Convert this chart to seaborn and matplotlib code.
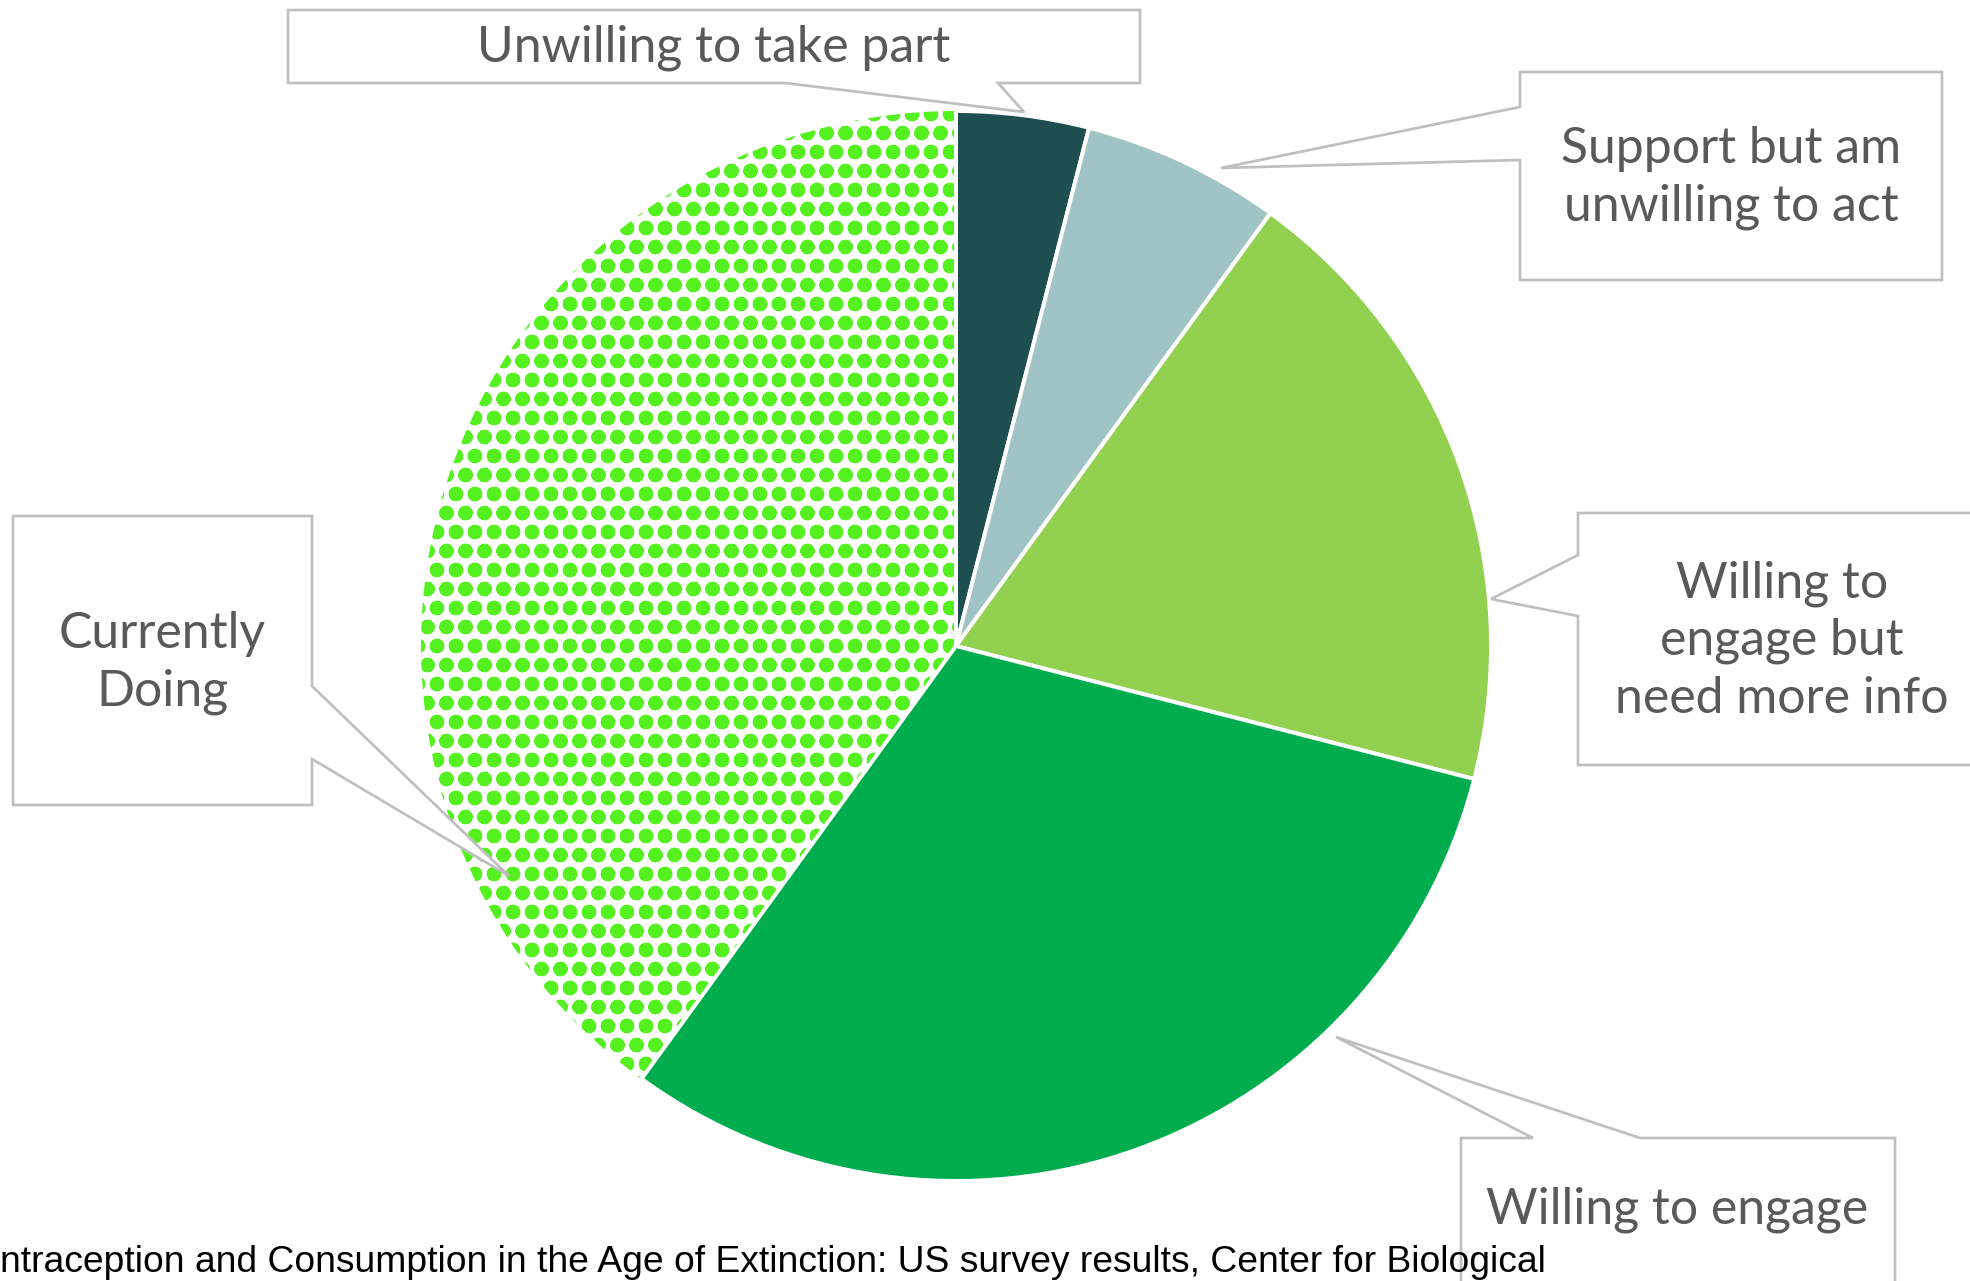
import matplotlib
matplotlib.use("Agg")
import matplotlib.pyplot as plt
from matplotlib.patches import Polygon
import seaborn as sns

# ---- data ----
categories = ["Unwilling to take part",
              "Support but am\nunwilling to act",
              "Willing to\nengage but\nneed more info",
              "Willing to engage",
              "Currently\nDoing"]
shares = [4, 6, 19, 31, 40]
slice_colors = ["#1F4E50", "#A0C4C5", "#92D050", "#00AD4E", "#FFFFFF"]
hatch_color = "#55F020"
source_text = ("ntraception and Consumption in the Age of Extinction: "
               "US survey results, Center for Biological")

# ---- layout (pixel space, y measured from top) ----
W, H = 1970, 1281
DPI = 114
PIE_CENTER = (956, 646)
PIE_RADIUS = 535

# callout boxes: (x0, y0, x1, y1), notch side, notch base (b1, b2), tip, text position
callouts = [
    dict(box=(288, 10, 1140, 83), side="bottom", base=(785, 998), tip=(1024, 112), txt=(714, 48)),
    dict(box=(1520, 72, 1942, 280), side="left", base=(107, 160), tip=(1221, 168), txt=(1731, 178)),
    dict(box=(1578, 513, 1985, 765), side="left", base=(555, 616), tip=(1491, 599), txt=(1782, 641)),
    dict(box=(1461, 1138, 1895, 1290), side="top", base=(1533, 1640), tip=(1336, 1037), txt=(1677, 1210)),
    dict(box=(13, 516, 312, 805), side="right", base=(686, 759), tip=(509, 876), txt=(162, 663)),
]

sns.set_theme(style="white")
plt.rcParams["hatch.linewidth"] = 4.4
plt.rcParams["font.family"] = ["Lato", "DejaVu Sans"]

fig = plt.figure(figsize=(W / DPI, H / DPI), dpi=DPI)
ax = fig.add_axes([0, 0, 1, 1])


def Y(y):
    return H - y


wedges, _ = ax.pie(shares, colors=slice_colors, startangle=90, counterclock=False,
                   center=(PIE_CENTER[0], Y(PIE_CENTER[1])), radius=PIE_RADIUS,
                   wedgeprops=dict(edgecolor="white", linewidth=2.5))
hw = wedges[4]
hw.set_hatch("o")
hw.set_edgecolor(hatch_color)
hw.set_linewidth(0)
hw.set_zorder(0.5)

for c, label in zip(callouts, categories):
    x0, y0, x1, y1 = c["box"]
    b1, b2 = c["base"]
    tip = c["tip"]
    if c["side"] == "bottom":
        pts = [(x0, y0), (x1, y0), (x1, y1), (b2, y1), tip, (b1, y1), (x0, y1)]
    elif c["side"] == "left":
        pts = [(x0, y0), (x1, y0), (x1, y1), (x0, y1), (x0, b2), tip, (x0, b1)]
    elif c["side"] == "top":
        pts = [(x0, y0), (b1, y0), tip, (b2, y0), (x1, y0), (x1, y1), (x0, y1)]
    else:
        pts = [(x0, y0), (x1, y0), (x1, b1), tip, (x1, b2), (x1, y1), (x0, y1)]
    pts = [(px, Y(py)) for px, py in pts]
    ax.add_patch(Polygon(pts, closed=True, facecolor="white", edgecolor="#BFBFBF",
                         linewidth=1.7, zorder=3))
    ax.text(c["txt"][0], Y(c["txt"][1]), label, ha="center", va="center",
            fontsize=31.5, color="#595959", linespacing=1.3, zorder=4)

ax.text(0, Y(1272), source_text, ha="left", va="baseline", fontsize=23.5,
        color="black", family=["Liberation Sans", "DejaVu Sans"], zorder=5)

ax.set_xlim(0, W)
ax.set_ylim(0, H)
ax.set_aspect("equal")
ax.axis("off")

fig.savefig("out.png", dpi=DPI, facecolor="white")
